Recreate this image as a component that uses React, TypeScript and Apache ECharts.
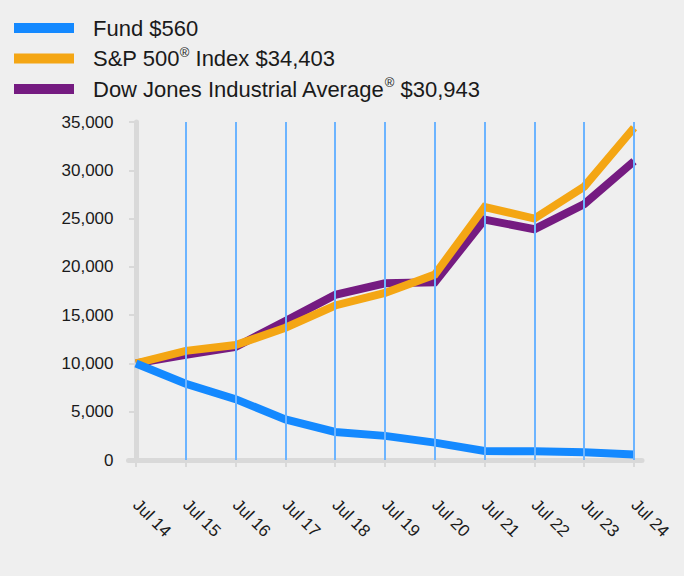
import React, { useEffect, useRef } from "react";
import * as echarts from "echarts";

const categories = ["Jul 14", "Jul 15", "Jul 16", "Jul 17", "Jul 18", "Jul 19", "Jul 20", "Jul 21", "Jul 22", "Jul 23", "Jul 24"];
const fundValues = [10000, 7900, 6300, 4200, 2900, 2500, 1800, 930, 900, 800, 560];
const sp500Values = [10000, 11300, 11900, 13700, 16000, 17300, 19200, 26200, 25000, 28300, 34403];
const dowValues = [10000, 10900, 11700, 14400, 17100, 18300, 18400, 24900, 23900, 26500, 30943];

const seriesNames = ["Fund", "S&P 500 Index", "Dow Jones Industrial Average"];
const legendLabels = ["Fund $560", "S&P 500® Index $34,403", "Dow Jones Industrial Average® $30,943"];
const seriesColors = ["#1489ff", "#f4a614", "#751b81"];

const FONT = 'Arial, "Liberation Sans", sans-serif';

export default function App() {
  const ref = useRef<HTMLDivElement>(null);
  useEffect(() => {
    document.body.style.margin = "0";
    document.body.style.background = "#efefef";
    const chart = echarts.init(ref.current!, null, { renderer: "svg" });
    const idx = categories.map((_, i) => i);
    const toPairs = (arr: number[]) => arr.map((v, i) => [i, v]);
    const mkSeries = (k: number, data: number[], z: number) => ({
      name: seriesNames[k],
      type: "line",
      data: toPairs(data),
      color: seriesColors[k],
      showSymbol: false,
      symbol: "none",
      z,
      lineStyle: { color: seriesColors[k], width: 8, cap: "butt", join: "miter" },
    });
    chart.setOption({
      animation: false,
      backgroundColor: "#efefef",
      textStyle: { fontFamily: FONT },
      legend: {
        data: seriesNames,
        orient: "vertical",
        left: 14,
        top: 17,
        padding: 0,
        itemWidth: 60,
        itemHeight: 10,
        itemGap: 6.5,
        icon: "rect",
        selectedMode: false,
        formatter: (name: string) => {
          const lbl = legendLabels[seriesNames.indexOf(name)];
          const parts = lbl.split("®");
          return "{g|}" + parts.map((p) => `{t|${p}}`).join("{s|®}");
        },
        textStyle: {
          rich: {
            g: { width: 14 },
            t: { fontSize: 22, lineHeight: 26, color: "#1a1a1a", fontFamily: FONT },
            s: { fontSize: 13, lineHeight: 15, verticalAlign: "top", color: "#1a1a1a", fontFamily: FONT },
          },
        },
      },
      grid: { left: 128.5, right: 42, top: 122, bottom: 116, containLabel: false },
      xAxis: {
        type: "value",
        min: -0.15,
        max: 10.16,
        splitLine: { show: false },
        axisLine: { show: true, onZero: false, lineStyle: { color: "#d9d9d9", width: 5 } },
        axisTick: { show: true, customValues: idx, length: 7, lineStyle: { color: "#d9d9d9", width: 2 } },
        axisLabel: {
          customValues: idx,
          formatter: (v: number) => categories[Math.round(v)],
          rotate: -45,
          margin: 42,
          fontSize: 17,
          color: "#1a1a1a",
          fontFamily: FONT,
        },
      },
      yAxis: {
        type: "value",
        min: 0,
        max: 35000,
        interval: 5000,
        splitLine: { show: false },
        axisLine: { show: true, lineStyle: { color: "#d9d9d9", width: 5 } },
        axisTick: { show: true, length: 7, lineStyle: { color: "#d9d9d9", width: 2 } },
        axisLabel: {
          margin: 15,
          fontSize: 17,
          color: "#1a1a1a",
          fontFamily: FONT,
          formatter: (v: number) => v.toLocaleString("en-US"),
        },
      },
      series: [
        {
          name: "grid",
          type: "line",
          data: [],
          z: 1,
          markLine: {
            silent: true,
            symbol: ["none", "none"],
            label: { show: false },
            lineStyle: { color: "#6cb4ff", width: 2, type: "solid" },
            data: idx.slice(1).map((i) => ({ xAxis: i })),
          },
        },
        mkSeries(2, dowValues, 2),
        mkSeries(1, sp500Values, 3),
        mkSeries(0, fundValues, 4),
      ],
    });
    return () => chart.dispose();
  }, []);
  return <div ref={ref} style={{ width: 684, height: 576 }} />;
}
